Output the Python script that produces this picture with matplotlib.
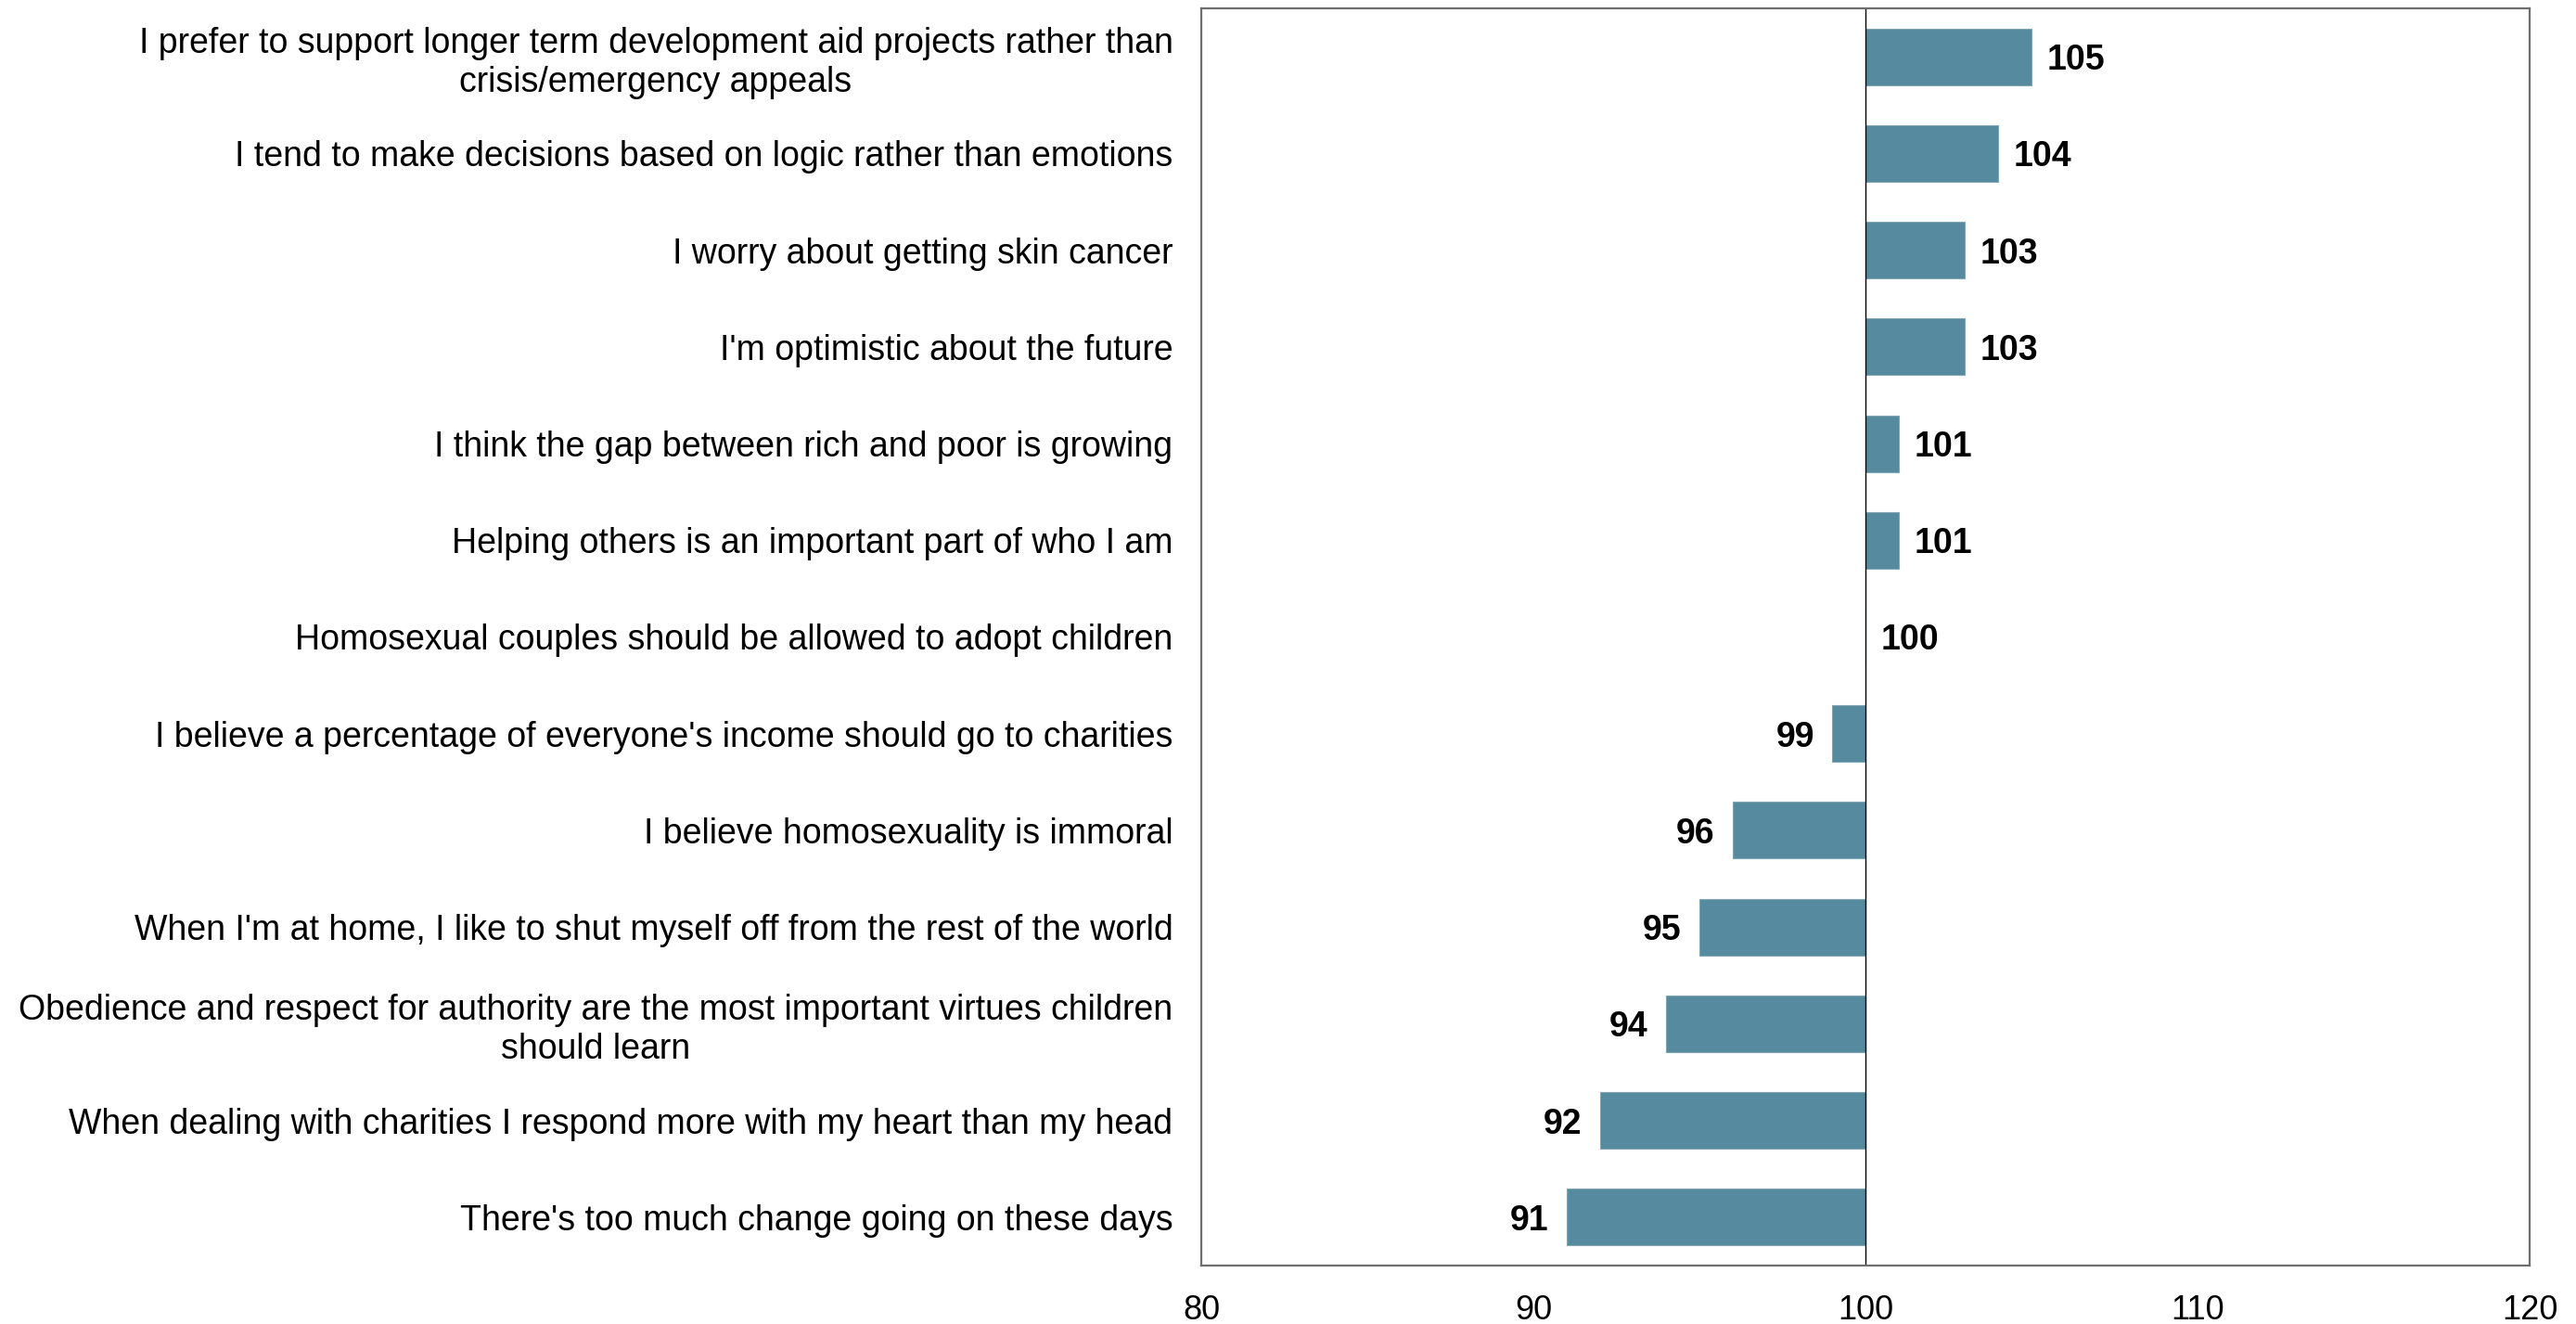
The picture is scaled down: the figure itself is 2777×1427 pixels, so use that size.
import matplotlib.pyplot as plt

plt.rcParams['font.family'] = ['Liberation Sans', 'DejaVu Sans']

# statements, top to bottom
labels = [
    "I prefer to support longer term development aid projects rather than\ncrisis/emergency appeals",
    "I tend to make decisions based on logic rather than emotions",
    "I worry about getting skin cancer",
    "I'm optimistic about the future",
    "I think the gap between rich and poor is growing",
    "Helping others is an important part of who I am",
    "Homosexual couples should be allowed to adopt children",
    "I believe a percentage of everyone's income should go to charities",
    "I believe homosexuality is immoral",
    "When I'm at home, I like to shut myself off from the rest of the world",
    "Obedience and respect for authority are the most important virtues children\nshould learn",
    "When dealing with charities I respond more with my heart than my head",
    "There's too much change going on these days",
]
values = [105, 104, 103, 103, 101, 101, 100, 99, 96, 95, 94, 92, 91]
base = 100
xticks = [80, 90, 100, 110, 120]

fig = plt.figure(figsize=(27.77, 14.27), dpi=100)
ax = fig.add_axes([1295 / 2777, 1 - 1364 / 1427, (2727 - 1295) / 2777, (1364 - 9) / 1427])

ypos = list(range(len(values)))
widths = [v - base for v in values]
ax.barh(ypos, widths, left=base, height=0.585, color='#568a9f', edgecolor='#7fa5b5', linewidth=0.8)

for y, v in zip(ypos, values):
    if v >= base:
        ax.annotate(str(v), (v, y), xytext=(12, 0), textcoords='offset points',
                    ha='left', va='center_baseline', fontsize=27, fontweight='bold')
    else:
        ax.annotate(str(v), (v, y), xytext=(-14, 0), textcoords='offset points',
                    ha='right', va='center_baseline', fontsize=27, fontweight='bold')

ax.axvline(base, color='black', linewidth=1)

ax.set_xlim(80, 120)
ax.set_ylim(len(values) - 0.5, -0.5)
ax.set_xticks(xticks)
ax.set_yticks(ypos)
ax.set_yticklabels(labels, multialignment='center')
ax.tick_params(axis='both', length=0, labelsize=27)
ax.tick_params(axis='x', pad=22, labelsize=26)
ax.tick_params(axis='y', pad=22)

for s in ax.spines.values():
    s.set_color('#6e6e6e')
    s.set_linewidth(1.6)

fig.savefig('out.png', dpi=100)
